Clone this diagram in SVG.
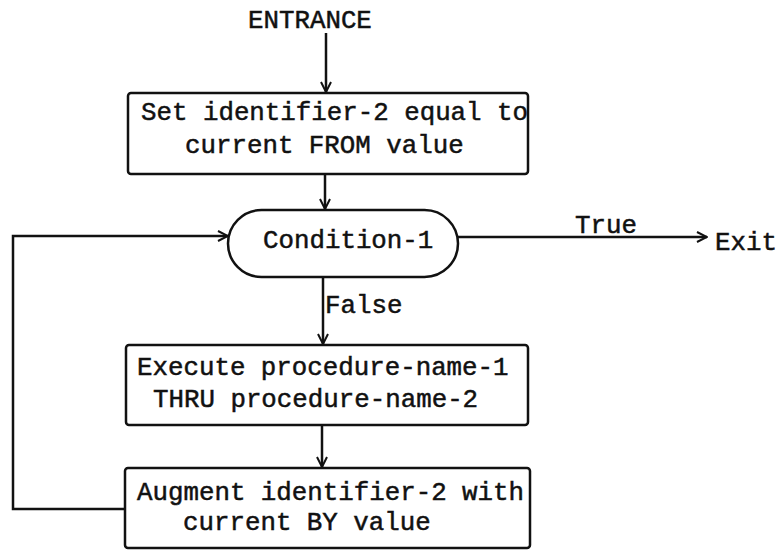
<svg xmlns="http://www.w3.org/2000/svg" width="777" height="552" viewBox="0 0 777 552">
<defs>
<style>
.box{fill:#fff;stroke:#111;stroke-width:2.5}
.t{font-family:"Liberation Mono","Courier New",monospace;font-size:25.8px;fill:#111;stroke:#111;stroke-width:0.5}
.c{fill:none;stroke:#111;stroke-width:2.5}
</style>
<marker id="ah" viewBox="0 0 12 12" refX="11" refY="6" markerWidth="12" markerHeight="12" markerUnits="userSpaceOnUse" orient="auto">
<path d="M1,1 L11,6 L1,11" fill="none" stroke="#111" stroke-width="2"/>
</marker>
</defs>
<rect width="777" height="552" fill="#fff"/>
<text class="t" x="248" y="28">ENTRANCE</text>
<g id="connectors">
<line class="c" x1="326" y1="33" x2="326" y2="92" marker-end="url(#ah)"/>
<line class="c" x1="325" y1="174" x2="325" y2="209" marker-end="url(#ah)"/>
<line class="c" x1="458" y1="237" x2="707" y2="237" marker-end="url(#ah)"/>
<line class="c" x1="323" y1="277" x2="323" y2="344" marker-end="url(#ah)"/>
<line class="c" x1="322" y1="425" x2="322" y2="467" marker-end="url(#ah)"/>
<polyline class="c" points="125,509 13,509 13,236 228,236" marker-end="url(#ah)"/>
<text class="t" x="575" y="233">True</text>
<text class="t" x="715" y="250">Exit</text>
<text class="t" x="325" y="313">False</text>
</g>
<g id="set">
<rect class="box" x="128" y="93" width="400" height="81" rx="3"/>
<text class="t" x="141" y="120">Set identifier-2 equal to</text>
<text class="t" x="185" y="153">current FROM value</text>
</g>
<g id="condition">
<rect class="box" x="228" y="210" width="230" height="67" rx="33.5"/>
<text class="t" x="263" y="248">Condition-1</text>
</g>
<g id="execute">
<rect class="box" x="126" y="345" width="402" height="80" rx="3"/>
<text class="t" x="137" y="375">Execute procedure-name-1</text>
<text class="t" x="153" y="407">THRU procedure-name-2</text>
</g>
<g id="augment">
<rect class="box" x="125" y="468" width="405" height="80" rx="3"/>
<text class="t" x="137" y="500">Augment identifier-2 with</text>
<text class="t" x="183" y="530">current BY value</text>
</g>
</svg>
